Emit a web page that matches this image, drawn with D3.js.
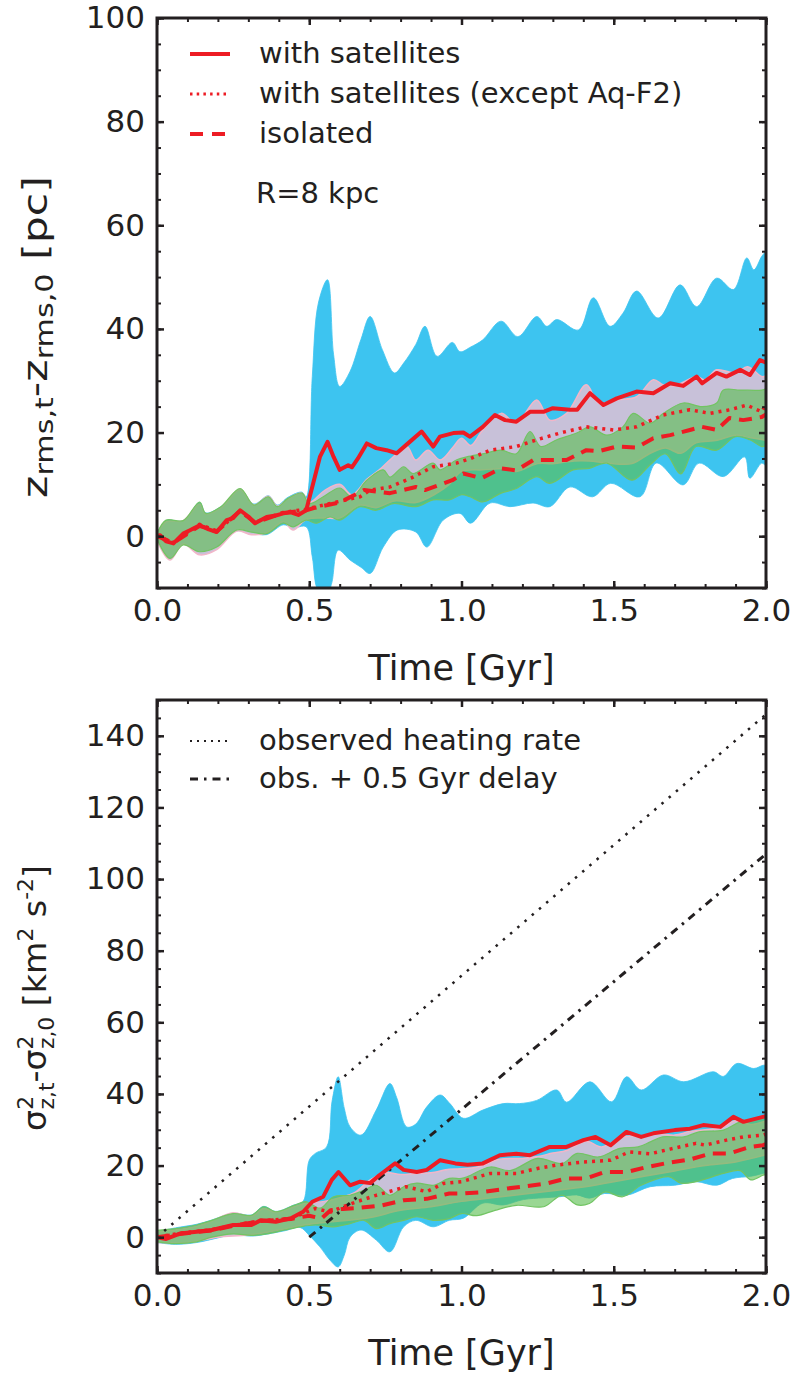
<!DOCTYPE html>
<html>
<head>
<meta charset="utf-8">
<script src="https://cdnjs.cloudflare.com/ajax/libs/d3/7.8.5/d3.min.js"></script>
<style>
  body { margin: 0; background: #fff; }
  text { font-family: "DejaVu Sans", sans-serif; fill: #231f20; }
</style>
</head>
<body>
<div id="chart"></div>
<script>
// ---- data: [time in Gyr, value] ----

// top panel: z_rms,t - z_rms,0 [pc]
var topBlueUpper = [[0,0.5],[0.03,3],[0.086,3],[0.14,6.5],[0.16,4.5],[0.21,5.7],[0.273,9],[0.318,6.2],[0.366,7.8],[0.395,6],[0.43,7.5],[0.476,8.5],[0.49,7.6],[0.51,30.8],[0.53,45],[0.56,49.5],[0.58,35],[0.6,28.9],[0.634,31.8],[0.67,38],[0.7,42.4],[0.74,36],[0.78,31.5],[0.81,33.4],[0.85,37],[0.88,40.5],[0.92,34.7],[0.97,37.4],[0.995,35.6],[1.03,36.5],[1.07,37.9],[1.13,41.5],[1.185,38.5],[1.247,42.4],[1.28,40.5],[1.313,41.8],[1.384,39.8],[1.433,46],[1.488,40.5],[1.53,43],[1.575,47.3],[1.646,42.1],[1.718,48.5],[1.772,44.3],[1.838,49.8],[1.893,47.6],[1.937,53.7],[1.96,51.4],[1.986,54],[2.0,55]];
var topBlueLower = [[0,-0.5],[0.043,-4],[0.086,-1.5],[0.14,-3],[0.196,-2],[0.262,1],[0.31,0.6],[0.36,0.3],[0.415,2.2],[0.447,1.6],[0.49,1.8],[0.51,-4],[0.53,-10.5],[0.56,-11],[0.574,-9],[0.595,-2.7],[0.634,-4.6],[0.67,-6],[0.7,-7.2],[0.743,-2.1],[0.79,1.2],[0.85,0.8],[0.886,-2.1],[0.94,3.1],[0.995,4.4],[1.03,2.5],[1.094,6.4],[1.16,5.7],[1.235,6.4],[1.29,5.7],[1.356,9.5],[1.43,7.6],[1.49,10.2],[1.586,7.6],[1.64,14.1],[1.728,9.9],[1.78,14.1],[1.86,11.5],[1.93,15.3],[1.947,11.2],[1.986,14.1],[2.0,13.5]];
var topLavUpper = [[0,0.3],[0.03,2.8],[0.086,3],[0.14,6.2],[0.16,4.3],[0.21,5.5],[0.273,9],[0.318,6],[0.366,7.7],[0.395,5.8],[0.43,7.2],[0.476,8.3],[0.5,6.5],[0.55,8.8],[0.6,10],[0.64,8],[0.69,11],[0.73,12.8],[0.77,15],[0.82,17.3],[0.85,14.7],[0.89,16.6],[0.93,14.7],[0.97,17],[1.0,18.9],[1.03,17.5],[1.07,20.5],[1.13,23.7],[1.18,21.8],[1.247,26.3],[1.29,22.4],[1.345,23.7],[1.41,29.2],[1.45,25.7],[1.51,26.3],[1.575,26.9],[1.63,30.2],[1.663,29.2],[1.7,29],[1.772,30.8],[1.8,30.2],[1.838,32.1],[1.9,31.5],[1.94,32.7],[1.986,30.8],[2.0,31]];
var topLavLower = [[0,-0.8],[0.043,-4.6],[0.086,-1.5],[0.14,-3.6],[0.196,-2.6],[0.262,1],[0.31,0.3],[0.36,0.6],[0.415,2.8],[0.447,1.2],[0.49,3.2],[0.55,3.5],[0.6,3.5],[0.667,6],[0.72,5.5],[0.78,6.8],[0.85,6.5],[0.91,8],[0.96,10],[1.0,12.5],[1.07,12.8],[1.13,13],[1.18,12.5],[1.25,14],[1.3,14],[1.37,14.5],[1.42,14.5],[1.48,14.1],[1.56,14],[1.62,16],[1.67,17],[1.72,16],[1.77,18],[1.84,18.5],[1.9,19.5],[1.95,19],[2.0,18.5]];
var topGreenUpper = [[0,0.5],[0.03,3.1],[0.086,3],[0.14,6.6],[0.16,4.4],[0.21,5.7],[0.273,9.2],[0.318,6],[0.366,7.6],[0.395,5.7],[0.43,7.3],[0.476,8.3],[0.5,6.3],[0.546,7.6],[0.6,9.3],[0.64,7.6],[0.689,10.8],[0.743,12.8],[0.765,11.4],[0.81,13.4],[0.84,12.1],[0.907,14.1],[0.93,12.8],[0.983,14.7],[1.017,15.3],[1.07,15.9],[1.13,16.6],[1.18,15.9],[1.225,20.2],[1.26,17.3],[1.313,18.6],[1.378,19.9],[1.422,21.1],[1.477,19.5],[1.53,21.1],[1.564,23.7],[1.62,21.8],[1.663,23.7],[1.728,25.7],[1.79,25],[1.838,25.7],[1.86,28.2],[1.915,28.2],[1.986,28.2],[2.0,28.5]];
var topGreenLower = [[0,-0.5],[0.043,-4.3],[0.086,-1.7],[0.14,-3],[0.196,-2.1],[0.262,1.2],[0.31,0.8],[0.36,0.5],[0.415,2.5],[0.447,1.8],[0.49,3.1],[0.524,2.5],[0.568,3.7],[0.6,3.1],[0.667,5.7],[0.72,5],[0.776,6.3],[0.85,5.7],[0.907,7],[0.96,7],[1.0,8],[1.028,7.6],[1.07,6.6],[1.13,8.3],[1.18,9.2],[1.247,11.5],[1.29,10.2],[1.367,12.8],[1.42,13.1],[1.477,14.1],[1.56,10.8],[1.62,13.8],[1.67,15.9],[1.72,12],[1.77,17.3],[1.838,16.6],[1.9,19.2],[1.947,18.6],[1.986,17.3],[2.0,17.5]];
var topSolid = [[0,0],[0.01,0.2],[0.03,-1],[0.054,-1.4],[0.086,0.5],[0.11,1.2],[0.14,2.1],[0.17,1.3],[0.196,0.8],[0.229,3.1],[0.25,3.5],[0.273,5],[0.3,3.8],[0.322,2.5],[0.36,3.7],[0.39,4],[0.415,4.4],[0.44,4.6],[0.464,4.1],[0.49,5],[0.513,10.2],[0.535,15.3],[0.56,18.2],[0.58,15.3],[0.6,12.8],[0.628,13.7],[0.64,13.3],[0.66,15],[0.689,17.9],[0.72,17],[0.754,16.6],[0.787,16],[0.83,18.2],[0.869,20.2],[0.907,17.3],[0.929,19.2],[0.973,19.9],[1.006,20],[1.028,19.2],[1.07,21.1],[1.11,23.4],[1.143,22.4],[1.18,22.1],[1.225,24],[1.269,24],[1.3,24.7],[1.356,24.4],[1.38,24.4],[1.422,27.6],[1.466,25.3],[1.51,26.6],[1.575,27.9],[1.63,27.6],[1.685,29.5],[1.728,29],[1.772,30.8],[1.79,29.5],[1.838,31.5],[1.87,30.8],[1.915,32.1],[1.947,31.1],[1.98,34],[2.0,33.5]];
var topDotted = [[0,0],[0.054,-1.2],[0.14,2.3],[0.196,1],[0.273,4.8],[0.322,2.7],[0.415,4.6],[0.49,5.2],[0.524,5.7],[0.59,6.6],[0.667,7.6],[0.7,8.9],[0.765,9.5],[0.834,11.2],[0.907,13.4],[0.983,14.1],[1.03,15],[1.094,16.6],[1.18,17.3],[1.247,18.6],[1.323,19.9],[1.41,21.1],[1.5,20.5],[1.575,21.1],[1.663,23.4],[1.75,24.4],[1.816,23.7],[1.882,24.4],[1.937,25.3],[1.986,24],[2.0,25.5]];
var topDashed = [[0,0],[0.054,-1.3],[0.14,2],[0.196,0.9],[0.273,4.9],[0.322,2.6],[0.415,4.5],[0.49,5],[0.52,5.5],[0.6,6.5],[0.68,8.9],[0.765,8.3],[0.85,9.5],[0.88,8.9],[0.97,10.8],[1.006,12.1],[1.066,11.2],[1.13,13.1],[1.18,12.7],[1.236,14.7],[1.29,14.7],[1.345,14.7],[1.41,16.6],[1.45,16.4],[1.51,17.3],[1.575,17.1],[1.63,18.9],[1.685,19.5],[1.75,20.5],[1.79,21.1],[1.838,20.5],[1.88,22.8],[1.925,22.4],[1.986,23],[2.0,23.5]];

// bottom panel: sigma_z,t^2 - sigma_z,0^2 [km^2 s^-2]
var botBlueUpper = [[0,1.5],[0.06,2.6],[0.13,3.6],[0.18,4.8],[0.25,6.7],[0.31,6.2],[0.35,8.6],[0.39,7.2],[0.45,9],[0.48,10],[0.5,21.5],[0.52,23.4],[0.557,25.2],[0.575,38],[0.595,44.8],[0.615,36],[0.634,30.8],[0.67,28.5],[0.72,35.5],[0.765,42.9],[0.787,39],[0.82,30.8],[0.85,31.6],[0.886,36.4],[0.93,39.7],[0.962,37.3],[1.006,33.2],[1.07,35.5],[1.137,37.3],[1.19,37.3],[1.247,38.2],[1.313,41.1],[1.345,37.7],[1.422,43.4],[1.493,37.8],[1.542,44.8],[1.59,41.1],[1.663,45.3],[1.73,43.4],[1.827,46.2],[1.86,44.9],[1.904,48.5],[1.96,47.1],[1.99,48],[2.0,48]];
var botBlueLower = [[0,-1.5],[0.06,-2],[0.13,-1.5],[0.2,-0.2],[0.25,0.7],[0.31,0.3],[0.35,0.7],[0.42,1.8],[0.47,2.7],[0.5,0.5],[0.535,-2.7],[0.568,-6.4],[0.595,-8.3],[0.615,-5],[0.634,0],[0.67,2],[0.72,-0.8],[0.765,-4.1],[0.81,2.9],[0.85,4.7],[0.907,2.9],[0.96,4.7],[1.006,5.3],[1.07,9.5],[1.137,9],[1.203,10.5],[1.27,11],[1.323,11.3],[1.378,11.8],[1.42,10.9],[1.47,12.2],[1.542,11.7],[1.62,14.1],[1.7,14.5],[1.77,15.5],[1.838,14.5],[1.89,16.4],[1.95,17],[1.99,17.8],[2.0,18]];
var botLavUpper = [[0,1.5],[0.06,2],[0.13,3],[0.18,4.5],[0.25,6.8],[0.31,5.8],[0.35,8],[0.39,7],[0.45,8.5],[0.49,9.5],[0.55,10],[0.6,11],[0.65,12.5],[0.7,16],[0.75,18],[0.8,17.5],[0.85,17.8],[0.9,18],[0.96,19],[1.0,19.1],[1.05,19.5],[1.126,21.8],[1.2,22],[1.25,22.5],[1.3,23.5],[1.345,24.2],[1.41,26.8],[1.46,25.2],[1.53,28],[1.6,28.3],[1.65,28.9],[1.7,28.5],[1.75,29.5],[1.8,30],[1.85,30.5],[1.9,32.5],[1.95,31.5],[2.0,32.5]];
var botLavLower = [[0,-1.5],[0.1,-1.5],[0.2,0],[0.3,0.6],[0.4,2],[0.5,3.6],[0.6,4.5],[0.7,5.5],[0.8,7.5],[0.9,8.5],[1.0,10],[1.1,11],[1.2,12],[1.3,13],[1.4,14],[1.5,15.5],[1.6,17],[1.7,18.5],[1.8,20],[1.9,21],[2.0,23]];
var botGreenUpper = [[0,1.9],[0.06,2.4],[0.13,3.4],[0.18,4.7],[0.25,6.6],[0.31,6.1],[0.35,8.5],[0.39,7.1],[0.45,8.9],[0.49,9.9],[0.535,8.1],[0.58,11.3],[0.634,11.7],[0.68,13.1],[0.72,14.5],[0.765,11.7],[0.81,14.1],[0.853,15.1],[0.907,14.5],[0.96,16.4],[1.0,16.4],[1.02,16.9],[1.094,19.6],[1.16,18.6],[1.25,22],[1.33,20.6],[1.38,23.4],[1.45,22.4],[1.52,24.8],[1.58,25.2],[1.62,26.6],[1.66,28],[1.73,28],[1.78,29.4],[1.86,29.9],[1.915,32.2],[1.99,33.6],[2.0,34]];
var botGreenLower = [[0,-1.3],[0.06,-1.8],[0.13,-1.3],[0.18,0],[0.25,0.9],[0.31,0.5],[0.36,0.9],[0.42,2],[0.47,2.9],[0.52,3.4],[0.58,2.9],[0.634,3.8],[0.68,4.7],[0.72,2.4],[0.765,3.8],[0.81,4.7],[0.853,5.7],[0.907,4.7],[0.96,5.2],[1.0,6.6],[1.05,6],[1.11,7.5],[1.18,8.9],[1.27,8.5],[1.33,11.7],[1.38,9],[1.42,9.4],[1.47,12.6],[1.53,11.3],[1.59,14.5],[1.68,16.9],[1.72,15.1],[1.77,15.5],[1.86,17.8],[1.915,18.6],[1.95,16],[1.99,17.3],[2.0,17.5]];
var botSolid = [[0,0],[0.03,-0.5],[0.075,1],[0.13,1.5],[0.18,2],[0.25,3.4],[0.31,3.4],[0.34,4.7],[0.39,4.3],[0.44,5.3],[0.48,7.1],[0.51,9.9],[0.546,11.3],[0.574,16],[0.596,18.2],[0.634,14.5],[0.667,15.5],[0.7,15.1],[0.73,17.3],[0.782,20.6],[0.81,18.8],[0.853,18.2],[0.886,18.8],[0.93,21.5],[0.98,20.6],[1.02,20.2],[1.07,20.6],[1.126,22.9],[1.18,23.3],[1.225,22.9],[1.29,25.2],[1.345,25.2],[1.4,27.1],[1.44,28],[1.49,25.7],[1.542,29.4],[1.59,28],[1.63,29],[1.7,29.9],[1.75,30.3],[1.794,31.3],[1.85,30.8],[1.893,33.6],[1.926,32.2],[1.99,33.6],[2.0,33.8]];
var botDotted = [[0,0],[0.075,1.1],[0.18,2.1],[0.25,3.3],[0.34,4.6],[0.44,5.2],[0.49,7],[0.52,8],[0.57,7],[0.61,8.5],[0.656,9.9],[0.72,11.7],[0.818,14.1],[0.886,12.7],[0.94,15],[1.0,15.5],[1.094,17.8],[1.18,17.8],[1.25,19.2],[1.31,20.1],[1.4,21],[1.49,21.5],[1.55,23.8],[1.62,23.3],[1.685,24.6],[1.77,26.2],[1.8,25.7],[1.87,27.1],[1.926,28],[1.99,28.5],[2.0,28.8]];
var botDashed = [[0,0],[0.075,0.9],[0.18,1.9],[0.25,3.2],[0.34,4.5],[0.44,5.1],[0.5,6],[0.54,5.2],[0.57,7.5],[0.61,7.9],[0.655,8.1],[0.74,8.9],[0.81,10.3],[0.886,10.7],[0.96,12.2],[1.006,12.2],[1.07,12.6],[1.15,13.6],[1.21,14.2],[1.28,15],[1.345,16.4],[1.41,16.4],[1.47,18.2],[1.542,18.2],[1.61,19.6],[1.68,20.8],[1.75,21.7],[1.82,23.4],[1.88,23.4],[1.947,25.2],[1.99,25.7],[2.0,26]];
var obsRate = [[0,0],[2,146]];
var obsDelay = [[0.5,0],[2,107]];

// ticks
var xMajor = [0, 0.5, 1.0, 1.5, 2.0];
var xMinor = d3.range(0, 2.01, 0.1);
var topYMajor = [0, 20, 40, 60, 80, 100];
var topYMinor = d3.range(-10, 100.1, 5);
var botYMajor = [0, 20, 40, 60, 80, 100, 120, 140];
var botYMinor = d3.range(-10, 150.1, 5);

var topLegend = ["with satellites", "with satellites (except Aq-F2)", "isolated"];
var botLegend = ["observed heating rate", "obs. + 0.5 Gyr delay"];

// ---- layout ----
var svgWidth = 797;
var svgHeight = 1373;
var plotLeft = 157, plotRight = 766;
var ink = "#231f20";
var red = "#ed1c24";

var svg = d3.select("#chart")
  .append("svg")
  .attr("width", svgWidth)
  .attr("height", svgHeight);

var xScale = d3.scaleLinear().domain([0, 2]).range([plotLeft, plotRight]);

// closed band: smooth upper edge forward, smooth lower edge back
function bandPath(y, upper, lower) {
  var edge = d3.line().curve(d3.curveCatmullRom.alpha(0.5));
  var up = edge(upper.map(d => [xScale(d[0]), y(d[1])]));
  var lo = edge(lower.slice().reverse().map(d => [xScale(d[0]), y(d[1])]));
  return up + "L" + lo.slice(1) + "Z";
}

function styleTicks(g, width) {
  g.select(".domain").remove();
  g.selectAll("line").attr("stroke", ink).attr("stroke-width", width);
  g.attr("font-family", "DejaVu Sans").attr("font-size", 31);
  g.selectAll("text").attr("fill", ink);
}

function drawPanel(p) {
  var yScale = d3.scaleLinear().domain(p.yDomain).range([p.bottom, p.top]);
  var g = svg.append("g");

  g.append("clipPath").attr("id", p.id)
    .append("rect")
    .attr("x", plotLeft).attr("y", p.top)
    .attr("width", plotRight - plotLeft).attr("height", p.bottom - p.top);

  var data = g.append("g").attr("clip-path", `url(#${p.id})`);

  // bands: blue, lavender, then translucent green
  data.append("path").attr("d", bandPath(yScale, p.blue[0], p.blue[1]))
    .attr("fill", "#3dc4f0").attr("stroke", "#3dc4f0").attr("stroke-width", 0.8);
  data.append("path").attr("d", bandPath(yScale, p.lav[0], p.lav[1]))
    .attr("fill", "#c8c1d9").attr("stroke", "#f2b6c9").attr("stroke-width", 1.5);
  data.append("path").attr("d", bandPath(yScale, p.green[0], p.green[1]))
    .attr("fill", "#5abe50").attr("fill-opacity", 0.62)
    .attr("stroke", "#72c463").attr("stroke-width", 1.2);

  var line = d3.line().x(d => xScale(d[0])).y(d => yScale(d[1]));

  p.lines.forEach(function(l) {
    data.append("path")
      .attr("d", line(l.data))
      .attr("fill", "none")
      .attr("stroke", l.color)
      .attr("stroke-width", l.width)
      .attr("stroke-dasharray", l.dash)
      .attr("stroke-linejoin", "round");
  });

  // ticks on all four sides, pointing in
  var bottomMinor = g.append("g").attr("transform", `translate(0,${p.bottom})`)
    .call(d3.axisBottom(xScale).tickValues(xMinor).tickSize(-4).tickFormat(""));
  styleTicks(bottomMinor, 2);
  var topMinor = g.append("g").attr("transform", `translate(0,${p.top})`)
    .call(d3.axisTop(xScale).tickValues(xMinor).tickSize(-4).tickFormat(""));
  styleTicks(topMinor, 2);
  var topMajor = g.append("g").attr("transform", `translate(0,${p.top})`)
    .call(d3.axisTop(xScale).tickValues(xMajor).tickSize(-7).tickFormat(""));
  styleTicks(topMajor, 2.5);
  var xAxis = g.append("g").attr("transform", `translate(0,${p.bottom})`)
    .call(d3.axisBottom(xScale).tickValues(xMajor).tickSize(-7).tickPadding(11).tickFormat(d3.format(".1f")));
  styleTicks(xAxis, 2.5);

  var leftMinor = g.append("g").attr("transform", `translate(${plotLeft},0)`)
    .call(d3.axisLeft(yScale).tickValues(p.yMinor).tickSize(-4).tickFormat(""));
  styleTicks(leftMinor, 2);
  var rightMinor = g.append("g").attr("transform", `translate(${plotRight},0)`)
    .call(d3.axisRight(yScale).tickValues(p.yMinor).tickSize(-4).tickFormat(""));
  styleTicks(rightMinor, 2);
  var rightMajor = g.append("g").attr("transform", `translate(${plotRight},0)`)
    .call(d3.axisRight(yScale).tickValues(p.yMajor).tickSize(-7).tickFormat(""));
  styleTicks(rightMajor, 2.5);
  var yAxis = g.append("g").attr("transform", `translate(${plotLeft},0)`)
    .call(d3.axisLeft(yScale).tickValues(p.yMajor).tickSize(-7).tickPadding(12));
  styleTicks(yAxis, 2.5);

  // frame
  g.append("rect")
    .attr("x", plotLeft).attr("y", p.top)
    .attr("width", plotRight - plotLeft).attr("height", p.bottom - p.top)
    .attr("fill", "none").attr("stroke", ink).attr("stroke-width", 3);

  // x label
  g.append("text")
    .attr("x", (plotLeft + plotRight) / 2)
    .attr("y", p.bottom + 92)
    .attr("text-anchor", "middle")
    .attr("font-size", 35)
    .text("Time [Gyr]");

  // legend
  p.legend.forEach(function(l, i) {
    var ly = p.legendY + i * l.step;
    g.append("line")
      .attr("x1", 190).attr("x2", 230)
      .attr("y1", ly).attr("y2", ly)
      .attr("stroke", l.color)
      .attr("stroke-width", l.width)
      .attr("stroke-dasharray", l.dash);
    g.append("text")
      .attr("x", 259)
      .attr("y", ly + 9)
      .attr("font-size", 29)
      .text(l.label);
  });

  return g;
}

drawPanel({
  id: "clipTop", top: 18, bottom: 588, yDomain: [-10, 100],
  yMajor: topYMajor, yMinor: topYMinor,
  blue: [topBlueUpper, topBlueLower],
  lav: [topLavUpper, topLavLower],
  green: [topGreenUpper, topGreenLower],
  lines: [
    {data: topDashed, color: red, width: 4, dash: "13,8"},
    {data: topDotted, color: red, width: 3.5, dash: "3,5"},
    {data: topSolid, color: red, width: 4, dash: null}
  ],
  legendY: 54,
  legend: [
    {label: topLegend[0], color: red, width: 4, dash: null, step: 40},
    {label: topLegend[1], color: red, width: 3, dash: "2.5,4.2", step: 40},
    {label: topLegend[2], color: red, width: 4, dash: "13,9", step: 40}
  ]
});

svg.append("text")
  .attr("x", 256)
  .attr("y", 203)
  .attr("font-size", 29)
  .text("R=8 kpc");

drawPanel({
  id: "clipBot", top: 700, bottom: 1273, yDomain: [-10, 150],
  yMajor: botYMajor, yMinor: botYMinor,
  blue: [botBlueUpper, botBlueLower],
  lav: [botLavUpper, botLavLower],
  green: [botGreenUpper, botGreenLower],
  lines: [
    {data: obsRate, color: ink, width: 2.5, dash: "2.5,7"},
    {data: obsDelay, color: ink, width: 3, dash: "8,6,2.5,6"},
    {data: botDashed, color: red, width: 4, dash: "13,8"},
    {data: botDotted, color: red, width: 3.5, dash: "3,5"},
    {data: botSolid, color: red, width: 4, dash: null}
  ],
  legendY: 741,
  legend: [
    {label: botLegend[0], color: ink, width: 2, dash: "2,5", step: 38},
    {label: botLegend[1], color: ink, width: 3, dash: "8,6,2.5,6", step: 38}
  ]
});

// ---- y labels (rotated, with sub/superscripts) ----
function fitLabel(t, cx, cy, span) {
  t.attr("text-anchor", "middle").attr("transform", `translate(${cx},${cy}) rotate(-90)`);
  var len = t.node().getComputedTextLength();
  t.attr("transform", `translate(${cx},${cy}) rotate(-90) scale(${span / len},1)`);
}

var topLabel = svg.append("text").attr("font-size", 34);
topLabel.append("tspan").text("z");
topLabel.append("tspan").attr("font-size", 24).attr("dy", 6).text("rms,t");
topLabel.append("tspan").attr("dy", -6).text("-z");
topLabel.append("tspan").attr("font-size", 24).attr("dy", 6).text("rms,0");
topLabel.append("tspan").attr("dy", -6).text(" [pc]");
fitLabel(topLabel, 47, 337, 322);

var botLabel = svg.append("text").attr("font-size", 32);
botLabel.append("tspan").text("σ");
botLabel.append("tspan").attr("font-size", 21).attr("dy", -13).text("2");
botLabel.append("tspan").attr("font-size", 21).attr("dx", -13).attr("dy", 21).text("z,t");
botLabel.append("tspan").attr("dy", -8).text("-σ");
botLabel.append("tspan").attr("font-size", 21).attr("dy", -13).text("2");
botLabel.append("tspan").attr("font-size", 21).attr("dx", -13).attr("dy", 21).text("z,0");
botLabel.append("tspan").attr("dy", -8).text(" [km");
botLabel.append("tspan").attr("font-size", 21).attr("dy", -13).text("2");
botLabel.append("tspan").attr("dy", 13).text(" s");
botLabel.append("tspan").attr("font-size", 21).attr("dy", -13).text("-2");
botLabel.append("tspan").attr("dy", 13).text("]");
fitLabel(botLabel, 46, 998, 293);
</script>
</body>
</html>
